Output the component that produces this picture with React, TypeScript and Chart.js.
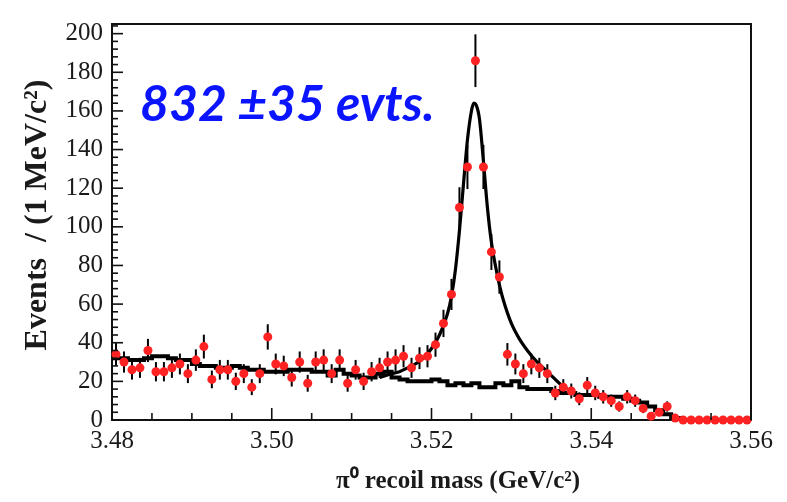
import React, { useEffect, useRef } from 'react';
import { Chart, registerables } from 'chart.js';

Chart.register(...registerables);

// ---- data -------------------------------------------------------------
const X_MIN = 3.48;
const X_MAX = 3.56;
const BIN_WIDTH = 0.001; // 1 MeV bins

// observed counts per 1 MeV bin (80 bins, 3.480 .. 3.560)
const counts = [
  34, 30, 26, 27, 36, 25, 25, 27, 29, 24,
  31, 38, 21, 26, 26, 20, 24, 17, 24, 43,
  29, 28, 22, 30, 19, 30, 31, 24, 31, 19,
  26, 20, 25, 27, 30, 31, 33, 27, 32, 33,
  39, 50, 65, 110, 131, 186, 131, 87, 74, 34,
  29, 24, 29, 27, 24, 14, 17, 15, 11, 18,
  14, 12, 10, 7, 12, 10, 6, 2, 4, 7,
  1, 0, 0, 0, 0, 0, 0, 0, 0, 0,
];

// background histogram shape (per bin)
const background = [
  32, 32, 31, 31, 32, 33, 33, 32, 31, 31,
  29, 28, 28, 27, 27, 28, 27, 26, 26, 25,
  25, 25, 26, 26, 26, 25, 25, 23, 26, 24,
  23, 22, 22, 24, 25, 22, 21, 20, 20, 20,
  21, 20, 18, 19, 18, 19, 17, 17, 19, 18,
  20, 17, 16, 16, 16, 15, 14, 14, 13, 13,
  13, 12, 12, 12, 11, 10, 9, 7, 5, 3,
  1, 0, 0, 0, 0, 0, 0, 0, 0, 0,
];

// total fit curve around the signal peak
const fitX = [
  3.5135, 3.515, 3.516, 3.517, 3.518, 3.519, 3.520, 3.521, 3.522, 3.5225,
  3.523, 3.5235, 3.524, 3.5245, 3.525, 3.5253, 3.5256, 3.526, 3.5265, 3.527,
  3.5275, 3.528, 3.5285, 3.529, 3.530, 3.531, 3.532, 3.533, 3.534, 3.535,
  3.536, 3.537,
];
const fitY = [
  22, 24, 25, 27, 29, 32, 37, 44, 55, 64,
  78, 98, 122, 145, 160, 164, 163, 156, 134, 110,
  92, 80, 70, 62, 50, 42, 36, 31, 27, 23,
  19, 16,
];

const xTickLabels = ['3.48', '3.50', '3.52', '3.54', '3.56'];
const yTickValues = [0, 20, 40, 60, 80, 100, 120, 140, 160, 180, 200];

const annotationText = '832 \u00b135 evts.';
const xTitle = '\u03c0\u2070 recoil mass (GeV/c\u00b2)';
const yTitle = 'Events  / (1 MeV/c\u00b2)';

// ---- helpers ------------------------------------------------------------
const binCenters = counts.map((_, i) => X_MIN + (i + 0.5) * BIN_WIDTH);
const binEdges = background.map((_, i) => X_MIN + i * BIN_WIDTH);

const FONT_SERIF = '"Liberation Serif", "Times New Roman", serif';

const errorBarPlugin = {
  id: 'errorBars',
  beforeDatasetDraw(chart: any, args: any) {
    if (args.index !== 0) return;
    const { ctx, scales } = chart;
    const x = scales.x;
    const y = scales.y;
    ctx.save();
    ctx.strokeStyle = '#000';
    ctx.lineWidth = 2;
    counts.forEach((c, i) => {
      if (c <= 0) return;
      const e = Math.sqrt(c);
      const px = x.getPixelForValue(binCenters[i]);
      ctx.beginPath();
      ctx.moveTo(px, y.getPixelForValue(Math.max(0, c - e)));
      ctx.lineTo(px, y.getPixelForValue(c + e));
      ctx.stroke();
    });
    ctx.restore();
  },
};

const framePlugin = {
  id: 'frameAndTitles',
  afterDraw(chart: any) {
    const { ctx, chartArea, scales } = chart;
    const x = scales.x;
    const y = scales.y;
    ctx.save();
    ctx.strokeStyle = '#111';
    ctx.lineWidth = 2;
    // frame
    ctx.beginPath();
    ctx.moveTo(chartArea.left, chartArea.top);
    ctx.lineTo(chartArea.right, chartArea.top);
    ctx.lineTo(chartArea.right, chartArea.bottom);
    ctx.stroke();
    // x ticks (inward)
    ctx.lineWidth = 1.6;
    for (let v = X_MIN, k = 0; v <= X_MAX + 1e-9; k++, v = X_MIN + k * 0.005) {
      const major = k % 4 === 0;
      const px = x.getPixelForValue(v);
      ctx.beginPath();
      ctx.moveTo(px, chartArea.bottom);
      ctx.lineTo(px, chartArea.bottom - (major ? 12 : 7));
      ctx.stroke();
    }
    // y ticks (inward)
    for (let k = 0; k * 4 <= 204; k++) {
      const v = k * 4;
      const major = k % 5 === 0;
      const py = y.getPixelForValue(v);
      ctx.beginPath();
      ctx.moveTo(chartArea.left, py);
      ctx.lineTo(chartArea.left + (major ? 11 : 6), py);
      ctx.stroke();
    }
    // axis titles
    ctx.fillStyle = '#1a1a1a';
    ctx.font = `bold 25px ${FONT_SERIF}`;
    ctx.textAlign = 'center';
    ctx.textBaseline = 'middle';
    ctx.fillText(xTitle, 458, 482);
    ctx.save();
    ctx.translate(38, 215);
    ctx.rotate(-Math.PI / 2);
    ctx.font = `bold 32px ${FONT_SERIF}`;
    ctx.fillText(yTitle, 0, 0);
    ctx.restore();
    // annotation
    ctx.fillStyle = '#0a14ff';
    ctx.font = 'italic bold 50px Lato, "Liberation Sans", sans-serif';
    ctx.textAlign = 'left';
    ctx.textBaseline = 'alphabetic';
    ctx.fillText(annotationText, 140, 121);
    ctx.restore();
  },
};

export default function App() {
  const canvasRef = useRef<HTMLCanvasElement | null>(null);

  useEffect(() => {
    const canvas = canvasRef.current;
    if (!canvas) return;

    const pointsData = counts.map((c, i) => ({ x: binCenters[i], y: c }));
    const bkgData = background.map((b, i) => ({ x: binEdges[i], y: b }));
    bkgData.push({ x: X_MAX, y: background[background.length - 1] });
    const fitData = fitX.map((fx, i) => ({ x: fx, y: fitY[i] }));

    const chart = new Chart(canvas, {
      type: 'scatter',
      data: {
        datasets: [
          {
            label: 'data',
            data: pointsData,
            showLine: false,
            pointRadius: 4.5,
            pointHoverRadius: 4.5,
            pointBackgroundColor: '#ff2222',
            pointBorderColor: '#ff2222',
            pointBorderWidth: 0,
            clip: 6,
          } as any,
          {
            label: 'fit',
            data: fitData,
            showLine: true,
            pointRadius: 0,
            borderColor: '#000',
            borderWidth: 3.2,
            cubicInterpolationMode: 'monotone',
          } as any,
          {
            label: 'background',
            data: bkgData,
            showLine: true,
            stepped: true,
            pointRadius: 0,
            borderColor: '#000',
            borderWidth: 4,
          } as any,
        ],
      },
      options: {
        animation: false,
        responsive: false,
        maintainAspectRatio: false,
        events: [],
        layout: { padding: { top: 16, right: 36, left: 0, bottom: 0 } },
        plugins: {
          legend: { display: false },
          tooltip: { enabled: false },
          title: { display: false },
        },
        scales: {
          x: {
            type: 'linear',
            min: X_MIN,
            max: X_MAX,
            grid: { display: false, drawTicks: false },
            border: { display: true, color: '#111', width: 2 },
            afterFit(scale: any) {
              scale.height = 82;
            },
            afterBuildTicks(scale: any) {
              scale.ticks = xTickLabels.map((l) => ({ value: parseFloat(l), label: l }));
            },
            ticks: {
              padding: 6,
              maxRotation: 0,
              autoSkip: false,
              color: '#1a1a1a',
              font: { family: FONT_SERIF, size: 25 },
              callback: (v: any) => Number(v).toFixed(2),
            },
          },
          y: {
            type: 'linear',
            min: 0,
            max: 205,
            grid: { display: false, drawTicks: false },
            border: { display: true, color: '#111', width: 2 },
            afterFit(scale: any) {
              scale.width = 112;
            },
            afterBuildTicks(scale: any) {
              scale.ticks = yTickValues.map((v) => ({ value: v }));
            },
            ticks: {
              padding: 9,
              color: '#1a1a1a',
              font: { family: FONT_SERIF, size: 25 },
              callback: (v: any) => String(v),
            },
          },
        },
      } as any,
      plugins: [errorBarPlugin, framePlugin],
    });

    return () => chart.destroy();
  }, []);

  return (
    <div style={{ position: 'fixed', left: 0, top: 0, width: 787, height: 502, background: '#fff' }}>
      <canvas ref={canvasRef} width={787} height={502} style={{ display: 'block' }} />
    </div>
  );
}
